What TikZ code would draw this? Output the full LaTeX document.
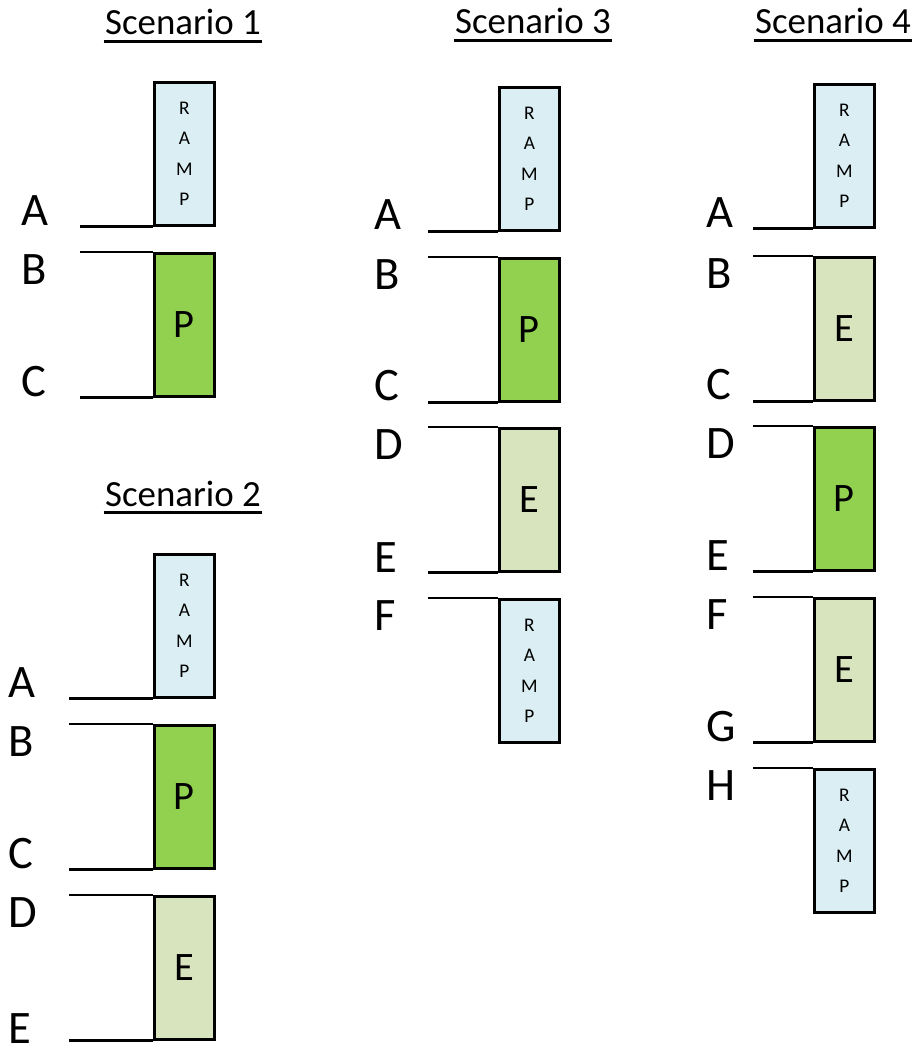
\documentclass[tikz,border=0pt]{standalone}
\usepackage{fontspec}
\setmainfont{Carlito}
\usetikzlibrary{positioning}
\definecolor{rampblue}{HTML}{DAEEF3}
\definecolor{pgreen}{HTML}{92D050}
\definecolor{egreen}{HTML}{D7E4BD}

\begin{document}
\begin{tikzpicture}[x=0.02cm,y=-0.02cm,line width=1.6pt,
  blk/.style={draw,line width=1.6pt,minimum width=1.2cm,minimum height=2.86cm,
    inner sep=0pt,anchor=north west},
  rampblk/.style={blk,fill=rampblue,align=center,
    font=\fontsize{11}{17.2}\selectfont},
  pblk/.style={blk,fill=pgreen,font=\fontsize{23}{26}\selectfont},
  eblk/.style={blk,fill=egreen,font=\fontsize{23}{26}\selectfont},
  lvl/.style={inner sep=0pt,font=\fontsize{26.5}{28}\selectfont},
  ttl/.style={inner sep=0pt,anchor=base,font=\fontsize{21}{24}\selectfont},
  uline/.style={line width=1.3pt}]
 \useasboundingbox (0,0) rectangle (921,1057);

 % titles
 \foreach \t/\x/\y/\n in {t1/183/35/1,t2/183/506/2,t3/533/34/3,t4/833/34/4}{
    \node[ttl] (\t) at (\x,\y) {Scenario \n};
    \draw[uline] ([yshift=-0.13cm]\t.base west) -- ([yshift=-0.13cm]\t.base east);
 }

 % Scenario 1
 \node[rampblk] (s1r) at (153,81) {R\\A\\M\\P};
 \node[pblk] (s1p) at (153,252) {P};
 \draw (s1r.south west) -- ++(-73,0);
 \draw (s1p.north west) -- ++(-73,0);
 \draw (s1p.south west) -- ++(-73,0);
 \node[lvl,anchor=base west] (s1la) at (20,226) {A};
 \node[lvl,anchor=north west] (s1lb) at (20,253) {B};
 \node[lvl,anchor=base west] (s1lc) at (20,396) {C};

 % Scenario 2
 \node[rampblk] (s2r) at (153,553) {R\\A\\M\\P};
 \node[pblk] (s2p) at (153,724) {P};
 \node[eblk] (s2e) at (153,895) {E};
 \draw (s2r.south west) -- ++(-84,0);
 \foreach \b in {s2p,s2e}{
    \draw (\b.north west) -- ++(-84,0);
    \draw (\b.south west) -- ++(-84,0);
 }
 \node[lvl,anchor=base west] (s2la) at (7,697) {A};
 \node[lvl,anchor=north west] (s2lb) at (7,725) {B};
 \node[lvl,anchor=base west] (s2lc) at (7,868) {C};
 \node[lvl,anchor=north west] (s2ld) at (7,896) {D};
 \node[lvl,anchor=base west] (s2le) at (7,1043) {E};

 % Scenario 3
 \node[rampblk] (s3r) at (498,86) {R\\A\\M\\P};
 \node[pblk] (s3p) at (498,257) {P};
 \node[eblk] (s3e) at (498,427) {E};
 \node[rampblk] (s3q) at (498,598) {R\\A\\M\\P};
 \draw (s3r.south west) -- ++(-70,0);
 \foreach \b in {s3p,s3e}{
    \draw (\b.north west) -- ++(-70,0);
    \draw (\b.south west) -- ++(-70,0);
 }
 \draw (s3q.north west) -- ++(-70,0);
 \node[lvl,anchor=base west] (s3la) at (373,230) {A};
 \node[lvl,anchor=north west] (s3lb) at (373,258) {B};
 \node[lvl,anchor=base west] (s3lc) at (373,400) {C};
 \node[lvl,anchor=north west] (s3ld) at (373,428) {D};
 \node[lvl,anchor=base west] (s3le) at (373,572) {E};
 \node[lvl,anchor=north west] (s3lf) at (373,599) {F};

 % Scenario 4
 \node[rampblk] (s4r) at (813,83) {R\\A\\M\\P};
 \node[eblk] (s4e) at (813,256) {E};
 \node[pblk] (s4p) at (813,426) {P};
 \node[eblk] (s4f) at (813,597) {E};
 \node[rampblk] (s4q) at (813,768) {R\\A\\M\\P};
 \draw (s4r.south west) -- ++(-60,0);
 \foreach \b in {s4e,s4p,s4f}{
    \draw (\b.north west) -- ++(-60,0);
    \draw (\b.south west) -- ++(-60,0);
 }
 \draw (s4q.north west) -- ++(-60,0);
 \node[lvl,anchor=base west] (s4la) at (705,228) {A};
 \node[lvl,anchor=north west] (s4lb) at (705,257) {B};
 \node[lvl,anchor=base west] (s4lc) at (705,399) {C};
 \node[lvl,anchor=north west] (s4ld) at (705,427) {D};
 \node[lvl,anchor=base west] (s4le) at (705,570) {E};
 \node[lvl,anchor=north west] (s4lf) at (705,598) {F};
 \node[lvl,anchor=base west] (s4lg) at (705,741) {G};
 \node[lvl,anchor=north west] (s4lh) at (705,769) {H};
\end{tikzpicture}
\end{document}
